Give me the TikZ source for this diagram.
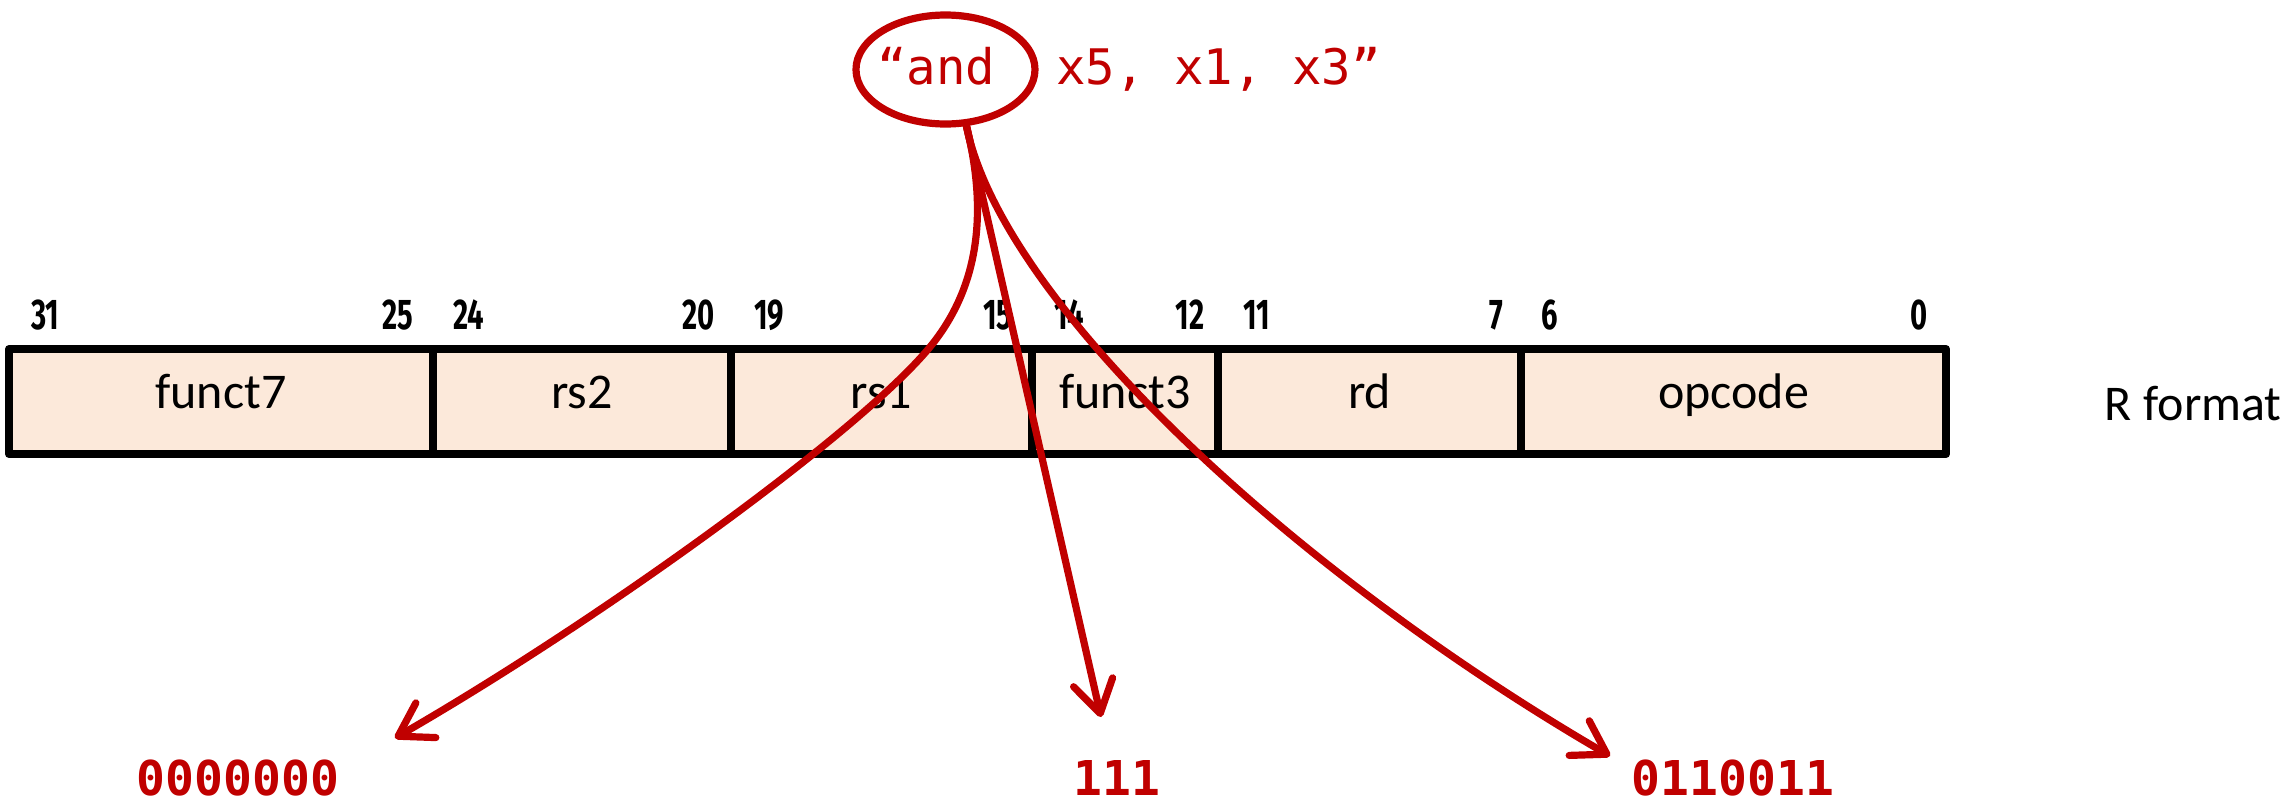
\documentclass[tikz,border=0pt]{standalone}
\usepackage{fontspec}
\setmainfont{Carlito}
\newfontfamily\codefont{DejaVu Sans Mono}
\newfontfamily\bitfont[FakeStretch=0.68]{Fira Sans}
\usetikzlibrary{arrows.meta,shapes.geometric}
\definecolor{accred}{HTML}{C00000}
\definecolor{fieldfill}{HTML}{FCE9DA}
\begin{document}
\begin{tikzpicture}[x=0.5pt,y=-0.5pt,
  field/.style={draw=black, line width=4pt, fill=fieldfill, inner sep=0pt,
    minimum height=52.5pt, text height=0.85em, text depth=0.15em,
    font=\fontsize{25}{30}\selectfont, line join=round},
  bitnum/.style={inner sep=0pt, font=\bitfont\bfseries\fontsize{21.5}{25}\selectfont},
  binlabel/.style={inner sep=0pt, text=accred, anchor=base,
    font=\codefont\bfseries\fontsize{24}{29}\selectfont},
  codetxt/.style={inner sep=0pt, text=accred, anchor=base west,
    font=\codefont\fontsize{24.5}{29}\selectfont},
  conn/.style={draw=accred, line width=3.6pt,
    -{Straight Barb[length=16pt,width=20pt,round]}}
]
\useasboundingbox (0,0) rectangle (2293,804);

% instruction fields
\node[field, minimum width=212pt]   (f7)  at (221,401.5)   {funct7};
\node[field, minimum width=149pt]   (rs2) at (582,401.5)   {rs2};
\node[field, minimum width=150.5pt] (rs1) at (881.5,401.5) {rs1};
\node[field, minimum width=93pt]    (f3)  at (1125,401.5)  {funct3};
\node[field, minimum width=151.5pt] (rd)  at (1369.5,401.5){rd};
\node[field, minimum width=212.5pt] (opc) at (1733.5,401.5){opcode};

\node[anchor=base east, inner sep=0pt, font=\fontsize{25}{30}\selectfont] (rfmt) at (2282,420) {R format};

% bit numbers
\node[bitnum, anchor=base west] (b31) at (31,329)   {31};
\node[bitnum, anchor=base east] (b25) at (414,329)  {25};
\node[bitnum, anchor=base west] (b24) at (453,329)  {24};
\node[bitnum, anchor=base east] (b20) at (715,329)  {20};
\node[bitnum, anchor=base west] (b19) at (754,329)  {19};
\node[bitnum, anchor=base east] (b15) at (1013,329) {15};
\node[bitnum, anchor=base west] (b14) at (1054,329) {14};
\node[bitnum, anchor=base east] (b12) at (1205,329) {12};
\node[bitnum, anchor=base west] (b11) at (1243,329) {11};
\node[bitnum, anchor=base east] (b7)  at (1504,329) {7};
\node[bitnum, anchor=base west] (b6)  at (1541,329) {6};
\node[bitnum, anchor=base east] (b0)  at (1928,329) {0};

% instruction text
\node[draw=accred, line width=3.6pt, ellipse, minimum width=89.5pt,
      minimum height=54.5pt, inner sep=0pt] (ell) at (945.5,69.5) {};
\node[codetxt] (andtxt) at (877,84)  {“and};
\node[codetxt] (opstxt) at (1056,84) {x5, x1, x3”};

% binary values
\node[binlabel] (binf7)  at (238,795)  {0000000};
\node[binlabel] (binf3)  at (1117,795) {111};
\node[binlabel] (binopc) at (1733,795) {0110011};

% connectors
\coordinate (src)   at (966,124);
\coordinate (bendL) at (930,347);
\coordinate (tipL)  at (395,738);
\coordinate (tipM)  at (1101,717);
\coordinate (tipR)  at (1610,756);

\draw[conn] (src) .. controls (985,200) and (985,280) .. (bendL)
                  .. controls (860,432) and (600,620) .. (tipL);
\draw[conn] (src) -- (tipM);
\draw[conn] (src) .. controls (1000,300) and (1290,570) .. (tipR);
\end{tikzpicture}
\end{document}
